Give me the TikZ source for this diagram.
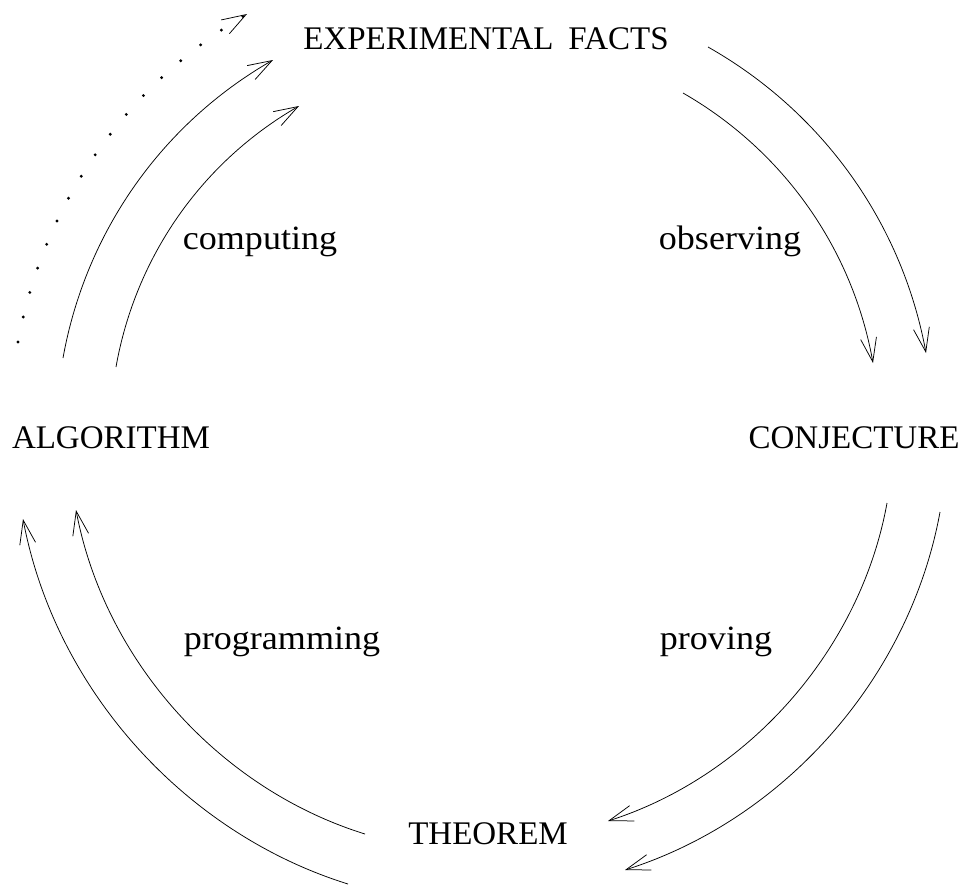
\documentclass[tikz,border=0pt]{standalone}
\usepackage{fontspec}
\setmainfont{Liberation Serif}
\newfontfamily\lblfont{Liberation Serif}[FakeStretch=1.06]
\usetikzlibrary{arrows.meta}
\begin{document}
\begin{tikzpicture}[x=1pt,y=1pt,
  capl/.style={inner sep=0pt, anchor=base, font=\fontsize{33}{38}\selectfont},
  lbl/.style={inner sep=0pt, anchor=base, font=\lblfont\fontsize{34}{40}\selectfont},
  tipb/.tip={Straight Barb[length=24pt,width=16pt,line width=0.75pt]},
  cyc/.style={line width=0.75pt, -tipb, looseness=0.9},
  dotcyc/.style={line width=3.2pt, line cap=round, dash pattern=on 0pt off 25.5pt, -tipb, looseness=0.9}]
\useasboundingbox (0,0) rectangle (965,-887);
% texts
\node[capl] (ef) at (486,-49) {EXPERIMENTAL\hspace{0.45em}FACTS};
\node[capl] (alg) at (111,-448) {ALGORITHM};
\node[capl] (conj) at (854,-448) {CONJECTURE};
\node[capl] (thm) at (488,-844) {THEOREM};
\node[lbl] (lcomp) at (260,-249) {computing};
\node[lbl] (lobs) at (730,-249) {observing};
\node[lbl] (lprog) at (282,-649) {programming};
\node[lbl] (lprov) at (716,-649) {proving};
% arc end points
\coordinate (tro1) at (708,-47);  \coordinate (tro2) at (926,-353);
\coordinate (tri1) at (683,-93);  \coordinate (tri2) at (873,-363);
\coordinate (bro1) at (940,-512); \coordinate (bro2) at (625,-870);
\coordinate (bri1) at (887,-503); \coordinate (bri2) at (608,-821);
\coordinate (blo1) at (348,-884); \coordinate (blo2) at (23,-519);
\coordinate (bli1) at (365,-834); \coordinate (bli2) at (76,-510);
\coordinate (tlo1) at (63,-358);  \coordinate (tlo2) at (273,-60);
\coordinate (tli1) at (116,-367); \coordinate (tli2) at (299,-106);
\coordinate (tld1) at (18,-342);  \coordinate (tld2) at (247,-14);
% arcs
\draw[cyc] (tro1) to[bend left=25] (tro2);
\draw[cyc] (tri1) to[bend left=25] (tri2);
\draw[cyc] (bro1) to[bend left=31] (bro2);
\draw[cyc] (bri1) to[bend left=31] (bri2);
\draw[cyc] (blo1) to[bend left=31] (blo2);
\draw[cyc] (bli1) to[bend left=31] (bli2);
\draw[cyc] (tlo1) to[bend left=25] (tlo2);
\draw[cyc] (tli1) to[bend left=25] (tli2);
\draw[dotcyc] (tld1) to[bend left=24.5] (tld2);
\end{tikzpicture}
\end{document}
